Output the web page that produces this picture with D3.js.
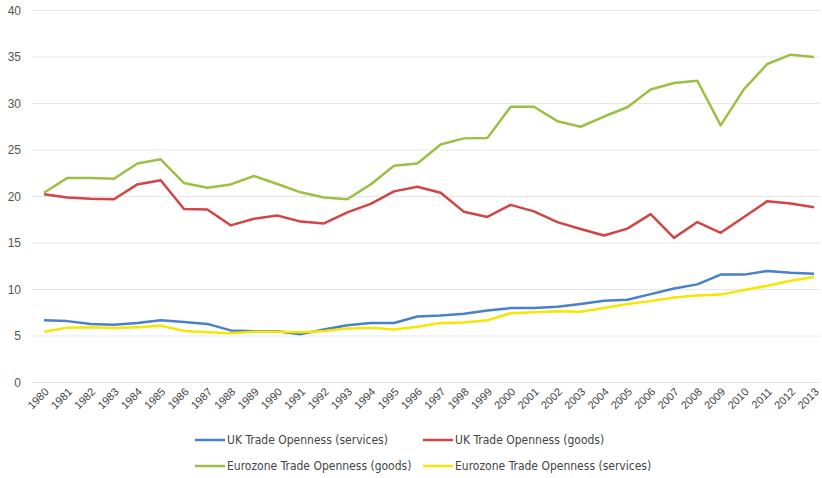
<!DOCTYPE html>
<html>
<head>
<meta charset="utf-8">
<script src="https://cdn.jsdelivr.net/npm/d3@7/dist/d3.min.js"></script>
<style>
  html, body { margin: 0; padding: 0; background: #fff; }
  svg { display: block; font-family: "Liberation Sans Narrow", "DejaVu Sans Condensed", "Open Sans", sans-serif; }
</style>
</head>
<body>
<svg id="chart" width="822" height="478"></svg>
<script>
// Trade openness (% of GDP), 1980–2013
const years = d3.range(1980, 2014);
const ukServices = [6.7, 6.6, 6.3, 6.2, 6.4, 6.7, 6.5, 6.3, 5.6, 5.5, 5.5, 5.2, 5.7, 6.15, 6.4, 6.4,
  7.1, 7.2, 7.4, 7.75, 8.0, 8.0, 8.15, 8.45, 8.8, 8.9, 9.5, 10.1, 10.55, 11.6, 11.6, 12.0, 11.8, 11.7];
const ukGoods = [20.25, 19.9, 19.75, 19.7, 21.3, 21.75, 18.65, 18.6, 16.9, 17.6, 17.95, 17.3, 17.1, 18.3, 19.2, 20.55,
  21.05, 20.4, 18.35, 17.8, 19.1, 18.4, 17.25, 16.5, 15.8, 16.55, 18.1, 15.55, 17.25, 16.1, 17.8, 19.5, 19.25, 18.85];
const ezGoods = [20.4, 22.0, 22.0, 21.9, 23.55, 24.0, 21.45, 20.95, 21.3, 22.2, 21.35, 20.45, 19.9, 19.7, 21.3, 23.3,
  23.55, 25.6, 26.25, 26.3, 29.65, 29.65, 28.1, 27.5, 28.6, 29.6, 31.5, 32.2, 32.45, 27.65, 31.55, 34.25, 35.25, 35.0];
const ezServices = [5.45, 5.9, 5.95, 5.85, 5.95, 6.1, 5.55, 5.4, 5.3, 5.45, 5.45, 5.4, 5.55, 5.8, 5.9, 5.7,
  6.0, 6.4, 6.45, 6.7, 7.45, 7.55, 7.65, 7.6, 8.0, 8.45, 8.75, 9.15, 9.35, 9.45, 9.95, 10.4, 10.95, 11.35];
const yTicks = [0, 5, 10, 15, 20, 25, 30, 35, 40];

const series = [
  { name: "UK Trade Openness (services)", values: ukServices, color: "#4a7fc9" },
  { name: "UK Trade Openness (goods)", values: ukGoods, color: "#d14545" },
  { name: "Eurozone Trade Openness (goods)", values: ezGoods, color: "#9bc043" },
  { name: "Eurozone Trade Openness (services)", values: ezServices, color: "#f6e600" }
];

const svg = d3.select("#chart");

const x = d3.scalePoint().domain(years).range([44, 814]);
const y = d3.scaleLinear().domain([0, 40]).range([382.5, 10.5]);

// Horizontal gridlines
svg.append("g")
  .selectAll("line")
  .data(yTicks)
  .join("line")
  .attr("x1", 32).attr("x2", 820)
  .attr("y1", d => y(d)).attr("y2", d => y(d))
  .attr("stroke", "#e6e6e6").attr("stroke-width", 1);

// Y axis labels
const yAxis = d3.axisLeft(y).tickValues(yTicks).tickSize(0).tickPadding(0);
svg.append("g")
  .attr("transform", "translate(21,0)")
  .call(yAxis)
  .call(g => g.select(".domain").remove())
  .call(g => g.selectAll("text")
    .attr("fill", "#555").attr("font-size", 12));

// X axis labels, rotated
const xAxis = d3.axisBottom(x).tickSize(0).tickPadding(0);
svg.append("g")
  .attr("transform", "translate(0,382.5)")
  .call(xAxis)
  .call(g => g.select(".domain").remove())
  .call(g => g.selectAll("text")
    .attr("fill", "#444").attr("font-size", 11)
    .attr("text-anchor", "end")
    .attr("dy", 0)
    .attr("transform", "translate(5,10) rotate(-45)"));

// Series lines
const line = d3.line()
  .x((d, i) => x(years[i]))
  .y(d => y(d));

svg.append("g")
  .selectAll("path")
  .data(series)
  .join("path")
  .attr("d", d => line(d.values))
  .attr("fill", "none")
  .attr("stroke", d => d.color)
  .attr("stroke-width", 2.5)
  .attr("stroke-linejoin", "round");

// Legend: two rows, two columns
const legendPos = [
  { x: 195, y: 440 }, { x: 423, y: 440 },
  { x: 195, y: 466 }, { x: 423, y: 466 }
];
const legend = svg.append("g")
  .selectAll("g")
  .data(series)
  .join("g")
  .attr("transform", (d, i) => `translate(${legendPos[i].x},${legendPos[i].y})`);
legend.append("line")
  .attr("x1", 0).attr("x2", 30)
  .attr("stroke", d => d.color).attr("stroke-width", 2.5);
legend.append("text")
  .attr("x", 32).attr("dy", "0.35em")
  .attr("font-size", 12).attr("fill", "#444")
  .text(d => d.name);
</script>
</body>
</html>
